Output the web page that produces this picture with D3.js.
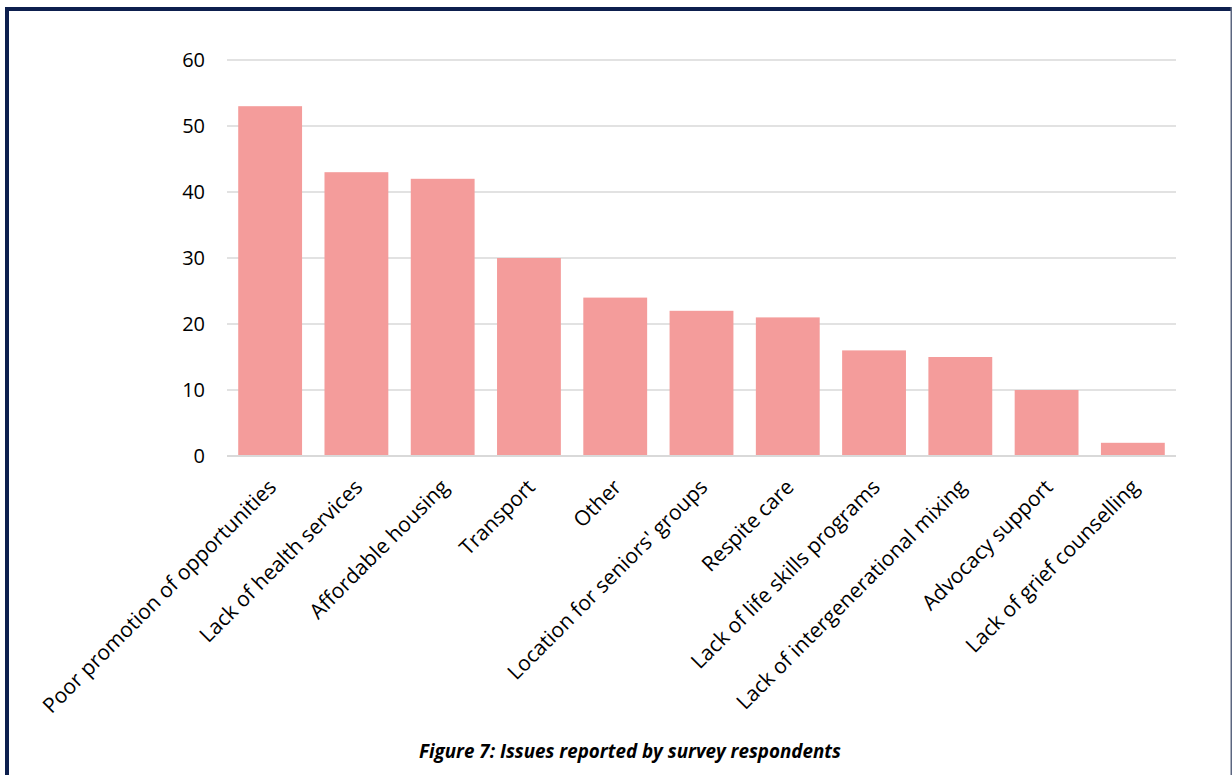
<!DOCTYPE html>
<html><head><meta charset="utf-8">
<script src="https://cdn.jsdelivr.net/npm/d3@7"></script>
<style>
html,body{margin:0;padding:0;background:#fff;}
svg{display:block;}
</style></head>
<body>
<svg id="chart" width="1232" height="775"></svg>
<script>
const categories = ["Poor promotion of opportunities","Lack of health services","Affordable housing","Transport","Other","Location for seniors' groups","Respite care","Lack of life skills programs","Lack of intergenerational mixing","Advocacy support","Lack of grief counselling"];
const values = [53,43,42,30,24,22,21,16,15,10,2];
const yTicks = [0,10,20,30,40,50,60];
const caption = "Figure 7: Issues reported by survey respondents";

const svg = d3.select("#chart");
const font = "'Open Sans', sans-serif";

// border
svg.append("rect").attr("x",5).attr("y",7).attr("width",1227).attr("height",4).attr("fill","#0d1f4e");
svg.append("rect").attr("x",5).attr("y",7).attr("width",4).attr("height",768).attr("fill","#0d1f4e");
svg.append("rect").attr("x",1230.5).attr("y",7).attr("width",1.5).attr("height",768).attr("fill","#5c6680");

const x = d3.scaleBand().domain(categories).range([227,1176]).paddingInner(0.26).paddingOuter(0.13);
const y = d3.scaleLinear().domain([0,60]).range([456,60]);

// gridlines
svg.append("g").selectAll("line").data(yTicks.slice(1)).join("line")
  .attr("x1",227).attr("x2",1176).attr("y1",d=>y(d)).attr("y2",d=>y(d))
  .attr("stroke","#d9d9d9").attr("stroke-width",1.3);

// y labels
svg.append("g").selectAll("text").data(yTicks).join("text")
  .attr("x",205).attr("y",d=>y(d)).attr("dy","0.36em").attr("text-anchor","end")
  .attr("font-family",font).attr("font-size",20).attr("fill","#000").text(d=>d);

// bars
svg.append("g").selectAll("rect").data(values).join("rect")
  .attr("x",(d,i)=>x(categories[i])).attr("width",x.bandwidth())
  .attr("y",d=>y(d)).attr("height",d=>y(0)-y(d)).attr("fill","#f49c9b");

// axis line
svg.append("line").attr("x1",227).attr("x2",1176).attr("y1",y(0)).attr("y2",y(0))
  .attr("stroke","#d9d9d9").attr("stroke-width",2);

// x labels
svg.append("g").selectAll("text").data(categories).join("text")
  .attr("transform",d=>`translate(${x(d)+x.bandwidth()/2+2},${483}) rotate(-45)`)
  .attr("text-anchor","end").attr("dy","0.36em")
  .attr("font-family",font).attr("font-size",21).attr("fill","#000").text(d=>d);

// caption
svg.append("text").attr("x",630).attr("y",758).attr("text-anchor","middle")
  .attr("font-family",font).attr("font-size",18.8).attr("font-weight","bold").attr("font-style","italic")
  .attr("fill","#000").text(caption);
</script>
</body></html>
